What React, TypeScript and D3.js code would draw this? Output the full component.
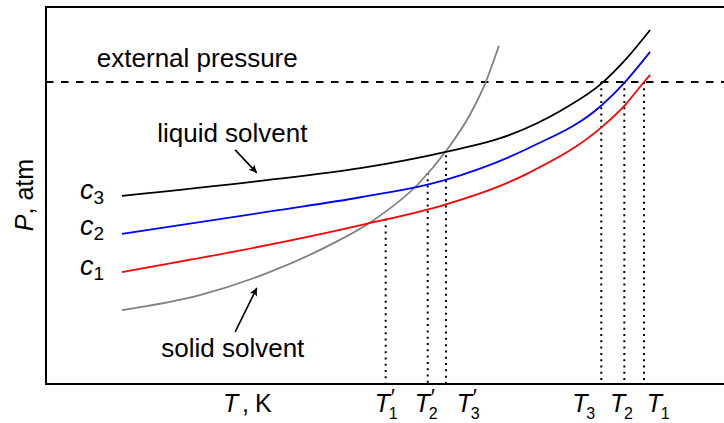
import React from "react";
import * as d3 from "d3";

// ---- data (arbitrary T / P units) ----
const blackT = [11.2, 31.3, 46.6, 58.8, 68.3, 76.1, 82.0, 85.4, 89.1];
const blackP = [49.9, 53.8, 57.3, 61.5, 66.0, 72.7, 79.8, 85.9, 93.9];
const blueT = [11.2, 33.5, 46.6, 58.8, 71.2, 82.0, 85.4, 89.1];
const blueP = [39.8, 45.9, 49.6, 54.1, 62.6, 74.0, 80.1, 88.1];
const redT = [11.2, 46.6, 59.1, 71.2, 82.0, 85.4, 88.2, 89.1];
const redP = [29.7, 42.2, 47.7, 56.0, 68.2, 74.0, 80.1, 82.0];
const solidT = [11.2, 22.7, 32.6, 41.9, 48.1, 54.9, 59.0, 62.5, 64.75, 66.8];
const solidP = [19.6, 23.6, 29.4, 36.9, 43.2, 53.05, 61.8, 71.35, 79.6, 89.7];

const externalP = 80.1;

// dotted drop lines: temperature and the pressure where they start
const dropT = [50.1, 56.3, 59.0, 81.9, 85.3, 88.2];
const dropP = [43.8, 56.0, 60.7, 80.1, 80.1, 80.1];

// tick labels under the axis
const tickNames = ["1", "2", "3", "3", "2", "1"];
const tickPrime = [true, true, true, false, false, false];
const tickT = [48.5, 54.4, 60.6, 77.6, 83.2, 88.6];

const curveNames = ["3", "2", "1"];

const W = 724;
const H = 423;

const FONT = "'Liberation Sans', Arial, sans-serif";

export default function App() {
  const x = d3.scaleLinear().domain([0, 100]).range([46, 724]);
  const y = d3.scaleLinear().domain([0, 100]).range([384, 7]);

  const mk = (ts: number[], ps: number[]) =>
    d3
      .line<number>()
      .x((_, i) => x(ts[i]))
      .y((_, i) => y(ps[i]))
      .curve(d3.curveMonotoneX)(ts) as string;

  const curves = [
    { d: mk(solidT, solidP), c: "#808080" },
    { d: mk(redT, redP), c: "#ff0000" },
    { d: mk(blueT, blueP), c: "#0000ff" },
    { d: mk(blackT, blackP), c: "#000000" },
  ];

  const cLabelP = [49.1, 39.5, 28.9];

  const arrows = [
    { x1: 27.9, y1: 62.1, x2: 31.1, y2: 56.0 },
    { x1: 27.9, y1: 13.8, x2: 31.1, y2: 25.5 },
  ];

  return (
    <svg
      width={W}
      height={H}
      style={{ position: "absolute", left: 0, top: 0, background: "#fff" }}
      fontFamily={FONT}
    >
      <defs>
        <marker
          id="arr"
          viewBox="-10 -6 12 12"
          markerWidth={12}
          markerHeight={12}
          refX={0}
          refY={0}
          orient="auto"
          markerUnits="userSpaceOnUse"
        >
          <path d="M0,0 L-8,-4 L-6,0 L-8,4 Z" fill="#000" />
        </marker>
      </defs>
      <rect x={0} y={0} width={W} height={H} fill="#fff" />

      {/* dotted drop lines */}
      {dropT.map((t, i) => (
        <line
          key={"d" + i}
          x1={x(t)}
          x2={x(t)}
          y1={y(dropP[i])}
          y2={y(0)}
          stroke="#000"
          strokeWidth={2}
          strokeDasharray="2 4.3"
        />
      ))}

      {/* external pressure dashed */}
      <line
        x1={x(0)}
        x2={x(100)}
        y1={y(externalP)}
        y2={y(externalP)}
        stroke="#000"
        strokeWidth={1.8}
        strokeDasharray="7.5 7.5"
      />

      {curves.map((c, i) => (
        <path key={"c" + i} d={c.d} fill="none" stroke={c.c} strokeWidth={1.8} />
      ))}

      {/* frame */}
      <path
        d={`M${x(100)},${y(100)} L${x(0)},${y(100)} L${x(0)},${y(0)} L${x(100)},${y(0)}`}
        fill="none"
        stroke="#000"
        strokeWidth={2}
      />

      {/* arrows */}
      {arrows.map((a, i) => (
        <line
          key={"a" + i}
          x1={x(a.x1)}
          y1={y(a.y1)}
          x2={x(a.x2)}
          y2={y(a.y2)}
          stroke="#000"
          strokeWidth={1.6}
          markerEnd="url(#arr)"
        />
      ))}

      {/* annotations */}
      <text x={x(7.5)} y={y(84.1)} fontSize={26}>
        external pressure
      </text>
      <text x={x(16.4)} y={y(64.2)} fontSize={26}>
        liquid solvent
      </text>
      <text x={x(17.0)} y={y(7.2)} fontSize={26}>
        solid solvent
      </text>

      {curveNames.map((n, i) => (
        <text key={"cl" + i} x={x(5.0)} y={y(cLabelP[i])} fontSize={27}>
          <tspan fontStyle="italic">c</tspan>
          <tspan fontSize={19} dy={5}>
            {n}
          </tspan>
        </text>
      ))}

      {/* axis labels */}
      <text
        transform={`translate(33,195) rotate(-90)`}
        textAnchor="middle"
        fontSize={25}
      >
        <tspan fontStyle="italic">P</tspan>
        <tspan>, atm</tspan>
      </text>
      <g fontSize={25}>
        <text x={223} y={412} fontStyle="italic">T</text>
        <text x={242} y={412}>,</text>
        <text x={255} y={412}>K</text>
      </g>

      {tickT.map((t, i) => (
        <g key={"t" + i}>
          <text x={x(t)} y={412} fontSize={25} fontStyle="italic">
            T
          </text>
          {tickPrime[i] && (
            <text x={x(t) + 15} y={404} fontSize={22} fontStyle="italic">
              ′
            </text>
          )}
          <text x={x(t) + 14} y={419} fontSize={16}>
            {tickNames[i]}
          </text>
        </g>
      ))}
    </svg>
  );
}
